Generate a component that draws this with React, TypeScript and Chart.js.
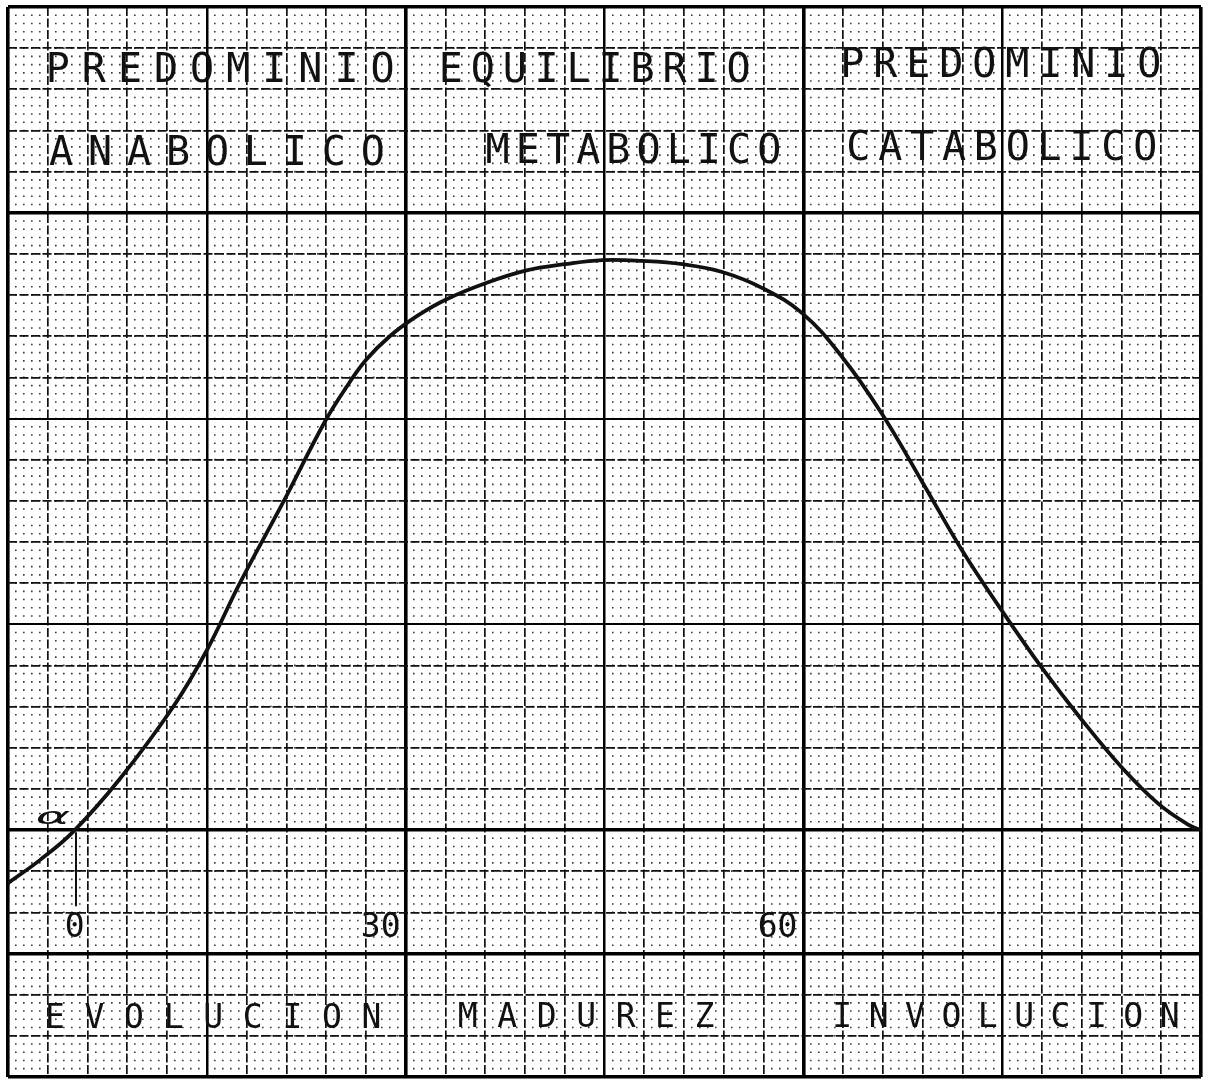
import React, { useEffect, useRef } from "react";
import { Chart, registerables } from "chart.js";

Chart.register(...registerables);

// ---- data (grid units: x = paper column 0..30, y = rows above the baseline) ----
const curveX = [0, 0.8, 1.63, 2.81, 4.15, 5.0, 5.83, 6.91, 7.96, 8.5, 9.0, 9.6, 10.3, 11.03, 12.04, 13.04, 14.0, 14.95, 15.95, 16.96, 17.96, 18.97, 19.97, 20.98, 21.98, 22.99, 23.99, 25.0, 26.0, 27.01, 28.02, 28.94, 29.7, 30];
const curveY = [-1.29, -0.73, -0.05, 1.24, 2.99, 4.37, 6.0, 7.95, 9.91, 10.75, 11.42, 12.0, 12.5, 12.9, 13.3, 13.6, 13.75, 13.85, 13.83, 13.75, 13.56, 13.17, 12.56, 11.49, 10.11, 8.46, 6.8, 5.32, 3.94, 2.67, 1.51, 0.63, 0.12, 0.0];
const markerX = [1.71, 1.71];
const markerY = [-0.05, -1.85];

const upperTitles = ["PREDOMINIO", "EQUILIBRIO", "PREDOMINIO"];
const lowerTitles = ["ANABOLICO", "METABOLICO", "CATABOLICO"];
const stageLabels = ["EVOLUCION", "MADUREZ", "INVOLUCION"];
const ageTicks = ["0", "30", "60"];
const originMark = "α";

const isInt = (v: number) => Math.abs(v - Math.round(v)) < 1e-6;

export default function App() {
  const ref = useRef<HTMLCanvasElement | null>(null);

  useEffect(() => {
    if (!ref.current) return;

    // placement of the hand lettering (column, row-value, letter spacing)
    const upperPos = [
      { col: 0.95, y: 18.18, ls: 12.0 },
      { col: 10.83, y: 18.18, ls: 7.9 },
      { col: 20.93, y: 18.3, ls: 8.9 },
    ];
    const lowerPos = [
      { col: 1.03, y: 16.16, ls: 14.9 },
      { col: 12.01, y: 16.21, ls: 6.1 },
      { col: 21.08, y: 16.28, ls: 7.8 },
    ];
    const stagePos = [
      { col: 0.93, y: -4.81, ls: 19.7 },
      { col: 11.31, y: -4.79, ls: 19.6 },
      { col: 20.73, y: -4.79, ls: 16.5 },
    ];
    const agePos = [
      { col: 1.43, y: -2.6, align: "left" },
      { col: 9.87, y: -2.6, align: "right" },
      { col: 19.85, y: -2.6, align: "right" },
    ];

    const textPlugin = {
      id: "paperText",
      afterDatasetsDraw(chart: any) {
        const { ctx, scales } = chart;
        const xs = scales.x;
        const ys = scales.y;
        ctx.save();
        ctx.fillStyle = "#111";
        ctx.textBaseline = "alphabetic";
        const draw = (texts: string[], pos: any[], size: number) => {
          texts.forEach((t, i) => {
            const p = pos[i];
            ctx.font = `${size}px "DejaVu Sans Mono"`;
            (ctx as any).letterSpacing = `${p.ls || 0}px`;
            ctx.textAlign = p.align || "left";
            ctx.fillText(t, xs.getPixelForValue(p.col), ys.getPixelForValue(p.y));
          });
        };
        draw(upperTitles, upperPos, 40);
        draw(lowerTitles, lowerPos, 40);
        draw(stageLabels, stagePos, 33);
        draw(ageTicks, agePos, 33);
        (ctx as any).letterSpacing = "0px";
        // origin mark
        ctx.translate(xs.getPixelForValue(1.13), ys.getPixelForValue(0.29));
        ctx.scale(1.65, 0.72);
        ctx.font = `italic 32px "DejaVu Sans"`;
        ctx.textAlign = "center";
        ctx.textBaseline = "middle";
        ctx.fillText(originMark, 0, 0);
        ctx.restore();
      },
    };

    const hidden = { display: false };
    const thickX = (v: number) => (isInt(v / 10) ? 3.6 : isInt(v / 5) ? 2.5 : 0);
    const thickYVals = [20, 15, 0, -3, -6];
    const medYVals = [10, 5];

    const chart = new Chart(ref.current, {
      type: "line",
      data: {
        datasets: [
          {
            data: curveX.map((x, i) => ({ x, y: curveY[i] })),
            borderColor: "#111",
            borderWidth: 3.8,
            pointRadius: 0,
            tension: 0.4,
            fill: false,
          },
          {
            data: markerX.map((x, i) => ({ x, y: markerY[i] })),
            borderColor: "#111",
            borderWidth: 2,
            pointRadius: 0,
            fill: false,
          },
        ],
      },
      options: {
        animation: false,
        responsive: true,
        maintainAspectRatio: false,
        devicePixelRatio: 1,
        events: [],
        layout: { padding: { left: 8, top: 7, right: 8, bottom: 12 } },
        plugins: { legend: hidden, tooltip: { enabled: false }, title: hidden },
        scales: {
          xMin: {
            type: "linear",
            position: "bottom",
            min: 0,
            max: 30,
            ticks: { stepSize: 0.2, display: false, autoSkip: false },
            grid: {
              drawTicks: false,
              lineWidth: 1.6,
              color: (c: any) => (isInt(c.tick.value) ? "rgba(0,0,0,0)" : "#3a3a3a"),
            },
            border: { display: false, dash: [1.6, 6.63], dashOffset: 0.8 },
          },
          x: {
            type: "linear",
            position: "bottom",
            min: 0,
            max: 30,
            ticks: { stepSize: 1, display: false, autoSkip: false },
            grid: {
              drawTicks: false,
              lineWidth: 1.7,
              color: (c: any) => (isInt(c.tick.value / 5) ? "rgba(0,0,0,0)" : "#111"),
            },
            border: { display: false, dash: [9, 2.5] },
          },
          xMaj: {
            type: "linear",
            position: "bottom",
            min: 0,
            max: 30,
            ticks: { stepSize: 5, display: false, autoSkip: false },
            grid: {
              drawTicks: false,
              lineWidth: (c: any) => thickX(c.tick.value),
              color: "#000",
            },
            border: { display: false },
          },
          y: {
            type: "linear",
            position: "left",
            min: -6,
            max: 20,
            ticks: { stepSize: 1, display: false, autoSkip: false },
            grid: {
              drawTicks: false,
              lineWidth: 1.7,
              color: (c: any) =>
                thickYVals.includes(c.tick.value) || medYVals.includes(c.tick.value) ? "rgba(0,0,0,0)" : "#111",
            },
            border: { display: false, dash: [9, 2.5] },
          },
          yMaj: {
            type: "linear",
            position: "left",
            min: -6,
            max: 20,
            ticks: { stepSize: 1, display: false, autoSkip: false },
            grid: {
              drawTicks: false,
              lineWidth: (c: any) =>
                thickYVals.includes(c.tick.value) ? 3.6 : medYVals.includes(c.tick.value) ? 2.0 : 0,
              color: "#000",
            },
            border: { display: false },
          },
        },
      },
      plugins: [textPlugin],
    } as any);

    return () => chart.destroy();
  }, []);

  return (
    <div style={{ position: "absolute", left: 0, top: 0, width: 1209, height: 1089, background: "#fff" }}>
      <canvas ref={ref} />
    </div>
  );
}
